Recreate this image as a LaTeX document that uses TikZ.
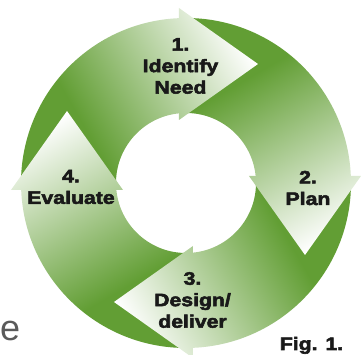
\documentclass[tikz,border=0pt]{standalone}
\usepackage{fontspec}
\newfontfamily\labfont[BoldFeatures={FakeStretch=1.18,FakeBold=3}]{Liberation Sans}
\newfontfamily\efont{Liberation Sans}
\definecolor{gdark}{RGB}{98,158,52}
\definecolor{labtext}{RGB}{25,25,25}
\definecolor{etext}{RGB}{90,90,90}
\pgfdeclarehorizontalshading{ringshade}{100bp}{color(0bp)=(gdark); color(44bp)=(gdark); color(62bp)=(white); color(100bp)=(white)}
\begin{document}
\begin{tikzpicture}[x=1pt,y=1pt,
  lab/.style={font=\labfont\bfseries\fontsize{18}{21.5}\selectfont, text=labtext, align=center, inner sep=0pt}]
\useasboundingbox (-186,-172) rectangle (176,183);
% ring segments
\foreach \k in {0,1,2,3} {
  \begin{scope}
    \clip[rotate=-90*\k] (182.43:165pt) arc[start angle=182.43, end angle=92.43, radius=165pt]
      -- (95.73:70pt) arc[start angle=95.73, end angle=185.73, radius=70pt] -- cycle;
    \begin{scope}[transform canvas={rotate=30-90*\k}]
      \shade[shading=ringshade] (-250,-250) rectangle (250,250);
    \end{scope}
  \end{scope}
}
% arrow heads
\foreach \k in {0,1,2,3} {
  \begin{scope}
    \clip[rotate=-90*\k] (-7,63) -- (-7,72) -- (-14,72) -- (-14,163) -- (-7,163) -- (-7,175) -- (72,119) -- cycle;
    \begin{scope}[transform canvas={rotate=30-90*\k}]
      \shade[shading=ringshade] (-250,-250) rectangle (250,250);
    \end{scope}
  \end{scope}
}
\node[lab] (n1) at (-5.5,117) {1.\\Identify\\Need};
\node[lab] (n2) at (122,-5) {2.\\Plan};
\node[lab] (n3) at (6.5,-117) {3.\\Design/\\deliver};
\node[lab] (n4) at (-115,-4) {4.\\Evaluate};
\node[lab, anchor=base] (fig) at (125.5,-167) {Fig. 1.};
\node[font=\efont\fontsize{36}{36}\selectfont, text=etext, anchor=base west, inner sep=0pt] (e) at (-186,-158) {e};
\end{tikzpicture}
\end{document}
